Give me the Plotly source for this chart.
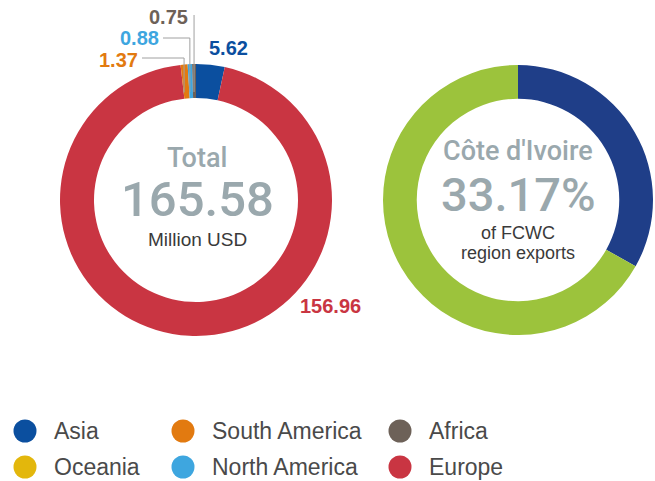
import math
import plotly.graph_objects as go

W, H = 655, 481

# ---- data ----
regions = ["Asia", "Europe", "South America", "North America", "Africa", "Oceania"]
values = [5.62, 156.96, 1.37, 0.88, 0.75, 0.0]
total_value = "165.58"
region_colors = {
    "Asia": "#0b4f9f",
    "Oceania": "#e3b70c",
    "South America": "#e27a10",
    "North America": "#3ea6df",
    "Africa": "#6d6158",
    "Europe": "#c93542",
}
legend_order = ["Asia", "Oceania", "South America", "North America", "Africa", "Europe"]

share_labels = ["Côte d'Ivoire", "Rest of FCWC region"]
share_values = [33.17, 66.83]
share_colors = ["#1f3e88", "#9cc33c"]
share_text = "33.17%"

# ---- layout geometry (pixels) ----
L_dom = dict(x=[60 / W, 332 / W], y=[1 - 336 / H, 1 - 64 / H])
R_dom = dict(x=[383 / W, 653 / W], y=[1 - 336 / H, 1 - 64 / H])
HOLE = 0.75

def centre(dom):
    cx = (dom["x"][0] + dom["x"][1]) / 2 * W
    cy = (1 - (dom["y"][0] + dom["y"][1]) / 2) * H
    r = min((dom["x"][1] - dom["x"][0]) * W, (dom["y"][1] - dom["y"][0]) * H) / 2
    return cx, cy, r

fig = go.Figure()

fig.add_trace(go.Pie(
    labels=regions, values=values, sort=False, direction="clockwise", rotation=0,
    hole=HOLE, domain=L_dom, textinfo="none", showlegend=False,
    marker=dict(colors=[region_colors[r] for r in regions], line=dict(width=0)),
))
fig.add_trace(go.Pie(
    labels=share_labels, values=share_values, sort=False, direction="clockwise", rotation=0,
    hole=HOLE, domain=R_dom, textinfo="none", showlegend=False,
    marker=dict(colors=share_colors, line=dict(width=0)),
))

# legend drawn on a hidden pixel axis
col_x = [25, 183, 400]
row_y = [431, 467]
lx = [col_x[i // 2] for i in range(len(legend_order))]
ly = [row_y[i % 2] for i in range(len(legend_order))]
fig.add_trace(go.Scatter(
    x=lx, y=ly, mode="markers", showlegend=False, hoverinfo="skip",
    marker=dict(size=23, color=[region_colors[r] for r in legend_order], line=dict(width=0)),
    xaxis="x", yaxis="y",
))

annotations = []
for name, x, y in zip(legend_order, lx, ly):
    annotations.append(dict(x=x + 27, y=y, xref="x", yref="y", text=name, showarrow=False,
                            xanchor="left", yanchor="middle",
                            font=dict(family="Liberation Sans, Arial", size=23, color="#4a4a4a")))

# value labels for the left donut
cx, cy, R = centre(L_dom)
rin = R * HOLE
tot = sum(values)
cum = 0
mid = {}
for r, v in zip(regions, values):
    mid[r] = (cum + v / 2) / tot * 2 * math.pi
    cum += v

label_pos = {
    "Asia": (228, 48),
    "Europe": (330, 306),
    "South America": (118, 60),
    "North America": (139, 38),
    "Africa": (168, 17),
}
for r, v in zip(regions, values):
    if r not in label_pos:
        continue
    x, y = label_pos[r]
    annotations.append(dict(x=x, y=y, xref="x", yref="y", text=f"{v:.2f}", showarrow=False,
                            xanchor="center", yanchor="middle",
                            font=dict(family="Liberation Sans, Arial", size=20,
                                      color=region_colors[r], weight="bold")))

shapes = []
leaders = {"South America": 58, "North America": 38, "Africa": 15}
for r, ytop in leaders.items():
    th = mid[r]
    ax = cx + R * math.sin(th)
    ay = cy - (rin + 6) * math.cos(th)
    lxs, _ = label_pos[r]
    path = f"M {ax},{ay} L {ax},{ytop}"
    if r != "Africa":
        path += f" L {lxs + 24},{ytop}"
    shapes.append(dict(type="path", path=path, xref="x", yref="y",
                       line=dict(color="#a0a0a0", width=1), layer="above"))

# centre texts
gray = "#9aa8ad"
annotations += [
    dict(x=cx + 1, y=158, text="Total", font=dict(family="Roboto", size=27, color=gray, weight=500)),
    dict(x=cx + 1, y=199, text=total_value, font=dict(family="Roboto", size=49, color=gray, weight=500)),
    dict(x=cx + 1, y=239, text="Million USD",
         font=dict(family="Liberation Sans, Arial", size=19, color="#3a3a3a")),
]
rcx, rcy, RR = centre(R_dom)
annotations += [
    dict(x=rcx, y=151, text="Côte d'Ivoire", font=dict(family="Roboto", size=27, color=gray, weight=500)),
    dict(x=rcx, y=194, text=share_text, font=dict(family="Roboto", size=47, color=gray, weight=500)),
    dict(x=rcx, y=233, text="of FCWC",
         font=dict(family="Liberation Sans, Arial", size=18, color="#3a3a3a")),
    dict(x=rcx, y=253, text="region exports",
         font=dict(family="Liberation Sans, Arial", size=18, color="#3a3a3a")),
]
for a in annotations[-7:]:
    a.update(xref="x", yref="y", showarrow=False, xanchor="center", yanchor="middle")

fig.update_layout(
    width=W, height=H, margin=dict(l=0, r=0, t=0, b=0),
    paper_bgcolor="white", plot_bgcolor="rgba(0,0,0,0)",
    xaxis=dict(range=[0, W], domain=[0, 1], visible=False, fixedrange=True),
    yaxis=dict(range=[H, 0], domain=[0, 1], visible=False, fixedrange=True),
    annotations=annotations, shapes=shapes, showlegend=False,
)

fig.write_html("out.html", config={"displayModeBar": False},
               post_script="document.body.style.margin='0';document.body.style.padding='0';"
                           "document.body.style.overflow='hidden';")
